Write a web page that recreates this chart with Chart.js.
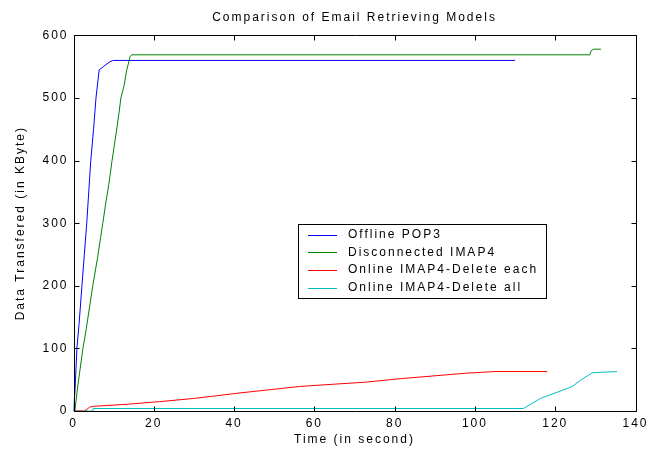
<!DOCTYPE html>
<html>
<head>
<meta charset="utf-8">
<script src="https://cdn.jsdelivr.net/npm/chart.js@4.4.1/dist/chart.umd.min.js"></script>
<style>
  html, body { margin: 0; padding: 0; background: #fff; }
  #wrap { width: 649px; height: 452px; }
</style>
</head>
<body>
<div id="wrap"><canvas id="chart" width="649" height="452"></canvas></div>
<script>
// Transfer traces: elapsed time (s) and cumulative data (KByte)
const popTime = [0, 0.1, 0.35, 0.85, 1.4, 2.1, 2.7, 3.3, 3.8, 4.3, 5.0, 5.6, 6.4, 7.4, 9.1, 9.9, 110];
const popKB   = [0, 0, 30, 100, 140, 200, 250, 300, 350, 400, 450, 500, 545, 550, 558, 560, 560];

const imapTime = [0, 0.35, 0.93, 1.6, 2.35, 3.1, 4.8, 6.0, 6.75, 7.3, 8.1, 8.8, 9.6, 10.7, 11.4, 11.8, 12.6, 13.2, 14.1, 14.5, 128.6, 129.0, 129.6, 131.4];
const imapKB   = [0, 0, 33, 65, 100, 128, 200, 245, 277, 300, 335, 362, 400, 447, 479, 500, 520, 543, 566, 569, 569, 576, 578, 578];

const eachTime = [0, 2.8, 4.0, 4.9, 13.2, 21.5, 29.9, 36.5, 39.8, 56.5, 73.0, 81.4, 98.0, 105.0, 118.0];
const eachKB   = [0, 0, 6, 7.5, 10.7, 15, 20, 25, 27.7, 39.3, 46.2, 51.6, 60.5, 63, 63];

const allTime = [0, 4.8, 4.9, 112.1, 116.3, 120.5, 124.2, 126.3, 129.2, 132.1, 135.4];
const allKB   = [0, 0, 4, 4, 20, 30, 39, 49, 61, 62, 63];

const seriesNames = ['Offline POP3', 'Disconnected IMAP4', 'Online IMAP4-Delete each', 'Online IMAP4-Delete all'];
const xTicks = [0, 20, 40, 60, 80, 100, 120, 140];
const yTicks = [0, 100, 200, 300, 400, 500, 600];

const toPoints = (xs, ys) => xs.map((x, i) => ({ x: x, y: ys[i] }));

const FONT = "'Liberation Sans', Arial, Helvetica, sans-serif";
Chart.defaults.font.family = FONT;
Chart.defaults.font.size = 12;
Chart.defaults.color = '#000';

// Letter-spaced text, like the plotting tool's Helvetica output
const spacing = {
  id: 'spacing',
  beforeLayout(chart) { chart.ctx.letterSpacing = '2px'; },
  beforeDraw(chart) { chart.ctx.letterSpacing = '2px'; }
};

// Boxed axes with inward tick marks on all four sides
const frame = {
  id: 'frame',
  afterDatasetsDraw(chart) {
    const { ctx, chartArea: a, scales } = chart;
    const L = Math.round(a.left) + 0.5, R = Math.round(a.right) + 0.5;
    const T = Math.round(a.top) + 0.5, B = Math.round(a.bottom) + 0.5;
    const len = 5;
    ctx.save();
    ctx.strokeStyle = '#000';
    ctx.lineWidth = 1;
    ctx.beginPath();
    ctx.rect(L, T, R - L, B - T);
    xTicks.forEach(v => {
      const px = Math.round(scales.x.getPixelForValue(v)) + 0.5;
      ctx.moveTo(px, B); ctx.lineTo(px, B - len);
      ctx.moveTo(px, T); ctx.lineTo(px, T + len);
    });
    yTicks.forEach(v => {
      const py = Math.round(scales.y.getPixelForValue(v)) + 0.5;
      ctx.moveTo(L, py); ctx.lineTo(L + len, py);
      ctx.moveTo(R, py); ctx.lineTo(R - len, py);
    });
    ctx.stroke();
    ctx.restore();
  }
};

// Boxed legend inside the plot
const boxLegend = {
  id: 'boxLegend',
  afterDraw(chart, args, opts) {
    const { ctx } = chart;
    const x0 = opts.left, y0 = opts.top, rowH = opts.rowHeight, n = chart.data.datasets.length;
    ctx.save();
    ctx.letterSpacing = '2px';
    ctx.font = '12px ' + FONT;
    let textW = 0;
    chart.data.datasets.forEach(ds => { textW = Math.max(textW, ctx.measureText(ds.label).width); });
    const w = Math.round(opts.textOffset + textW + 8);
    const h = Math.round(rowH * (n - 1) + 2 * opts.inset);
    ctx.fillStyle = '#fff';
    ctx.fillRect(x0 + 0.5, y0 + 0.5, w, h);
    ctx.strokeStyle = '#000';
    ctx.lineWidth = 1;
    ctx.strokeRect(x0 + 0.5, y0 + 0.5, w, h);
    ctx.textBaseline = 'middle';
    ctx.textAlign = 'left';
    chart.data.datasets.forEach((ds, i) => {
      const cy = y0 + opts.inset + rowH * i;
      ctx.strokeStyle = ds.borderColor;
      ctx.beginPath();
      ctx.moveTo(x0 + 10, Math.round(cy) + 0.5);
      ctx.lineTo(x0 + 39, Math.round(cy) + 0.5);
      ctx.stroke();
      ctx.fillStyle = '#000';
      ctx.fillText(ds.label, x0 + opts.textOffset, cy);
    });
    ctx.restore();
  }
};

const lineStyle = { borderWidth: 1, pointRadius: 0, tension: 0, fill: false };

new Chart(document.getElementById('chart'), {
  type: 'line',
  data: {
    datasets: [
      { label: seriesNames[0], data: toPoints(popTime, popKB), borderColor: '#0000ff', ...lineStyle },
      { label: seriesNames[1], data: toPoints(imapTime, imapKB), borderColor: '#008000', ...lineStyle },
      { label: seriesNames[2], data: toPoints(eachTime, eachKB), borderColor: '#ff0000', ...lineStyle },
      { label: seriesNames[3], data: toPoints(allTime, allKB), borderColor: '#00bfbf', ...lineStyle }
    ]
  },
  options: {
    responsive: false,
    devicePixelRatio: 1,
    animation: false,
    layout: { padding: { top: 0, right: 13.5, bottom: 0, left: 0 } },
    plugins: {
      legend: { display: false },
      tooltip: { enabled: false },
      title: {
        display: true,
        fullSize: false,
        text: 'Comparison of Email Retrieving Models',
        font: { size: 12, weight: 'normal' },
        color: '#000',
        padding: { top: 10, bottom: 11 }
      },
      boxLegend: { left: 298, top: 224, rowHeight: 17.7, inset: 10.5, textOffset: 50 }
    },
    scales: {
      x: {
        type: 'linear',
        min: 0, max: 140,
        afterBuildTicks: s => { s.ticks = xTicks.map(v => ({ value: v })); },
        afterFit: s => { s.height = 41; s.paddingLeft = 0; s.paddingRight = 0; },
        grid: { display: false, drawTicks: false },
        border: { display: false },
        ticks: { padding: 5, maxRotation: 0, font: { size: 12 }, color: '#000' },
        title: { display: true, text: 'Time (in second)', font: { size: 12 }, color: '#000', padding: { top: 0, bottom: 5 } }
      },
      y: {
        type: 'linear',
        min: 0, max: 600,
        afterBuildTicks: s => { s.ticks = yTicks.map(v => ({ value: v })); },
        afterFit: s => { s.width = 73.5; s.paddingTop = 0; s.paddingBottom = 0; },
        grid: { display: false, drawTicks: false },
        border: { display: false },
        ticks: { padding: 5, font: { size: 12 }, color: '#000' },
        title: { display: true, text: 'Data Transfered (in KByte)', font: { size: 12 }, color: '#000', padding: { top: 13, bottom: 0 } }
      }
    }
  },
  plugins: [spacing, frame, boxLegend]
});
</script>
</body>
</html>
